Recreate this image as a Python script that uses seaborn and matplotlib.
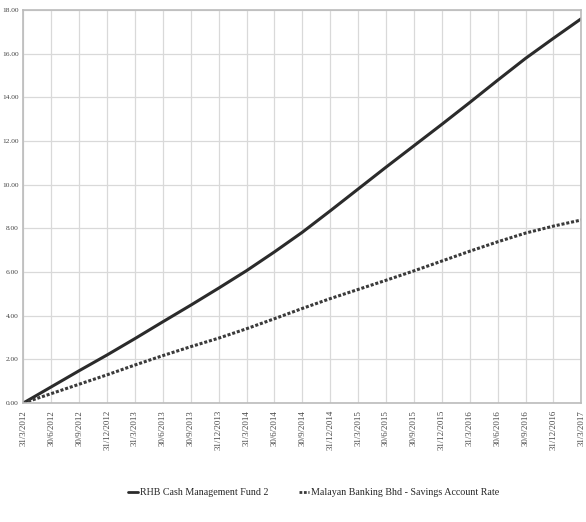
import pandas as pd
import matplotlib
matplotlib.use("Agg")
import matplotlib.pyplot as plt
import seaborn as sns

# quarter-end dates on the x axis
dates = ["31/3/2012", "30/6/2012", "30/9/2012", "31/12/2012",
         "31/3/2013", "30/6/2013", "30/9/2013", "31/12/2013",
         "31/3/2014", "30/6/2014", "30/9/2014", "31/12/2014",
         "31/3/2015", "30/6/2015", "30/9/2015", "31/12/2015",
         "31/3/2016", "30/6/2016", "30/9/2016", "31/12/2016",
         "31/3/2017"]

# cumulative returns (%)
rhb_fund = [0.0, 0.74, 1.48, 2.2, 2.95, 3.72, 4.48, 5.26, 6.06, 6.92, 7.82,
            8.8, 9.8, 10.8, 11.78, 12.76, 13.76, 14.78, 15.78, 16.7, 17.6]
savings_rate = [0.0, 0.43, 0.86, 1.29, 1.74, 2.17, 2.58, 2.97, 3.4, 3.86, 4.33,
                4.78, 5.2, 5.62, 6.05, 6.5, 6.95, 7.38, 7.78, 8.1, 8.38]

series_names = ["RHB Cash Management Fund 2",
                "Malayan Banking Bhd - Savings Account Rate"]

df = pd.DataFrame({
    "idx": list(range(len(dates))) * 2,
    "value": rhb_fund + savings_rate,
    "series": [series_names[0]] * len(dates) + [series_names[1]] * len(dates),
})

sns.set_style("whitegrid")
plt.rcParams["font.family"] = ["Liberation Serif", "DejaVu Serif"]

fig = plt.figure(figsize=(5.86, 5.22), dpi=100)
ax = fig.add_axes([0.04, 0.228, 0.952, 0.753])

sns.lineplot(data=df, x="idx", y="value", hue="series", style="series",
             palette=["#2b2b2b", "#3a3a3a"], dashes=[(None, None), (1, 0.6)],
             linewidth=2.2, legend=False, ax=ax)

ax.set_xlim(0, len(dates) - 1)
ax.set_ylim(0, 18)
ax.set_xticks(range(len(dates)))
ax.set_xticklabels(dates, rotation=90, fontsize=6.3, color="#444444")
ax.set_yticks(range(0, 19, 2))
ax.set_yticklabels([f"{v:.2f}" for v in range(0, 19, 2)], fontsize=5.3, color="#444444")
ax.tick_params(axis="x", length=2, pad=3, color="#999999")
ax.tick_params(axis="y", length=2, pad=1.5, color="#999999")
ax.set_xlabel("")
ax.set_ylabel("")
ax.grid(True, color="#d9d9d9", linewidth=0.9)
for side in ["top", "right", "left", "bottom"]:
    ax.spines[side].set_visible(True)
    ax.spines[side].set_color("#bbbbbb")
    ax.spines[side].set_linewidth(1.2)

# legend below the axes
handles = [plt.Line2D([], [], color="#2b2b2b", linewidth=2),
           plt.Line2D([], [], color="#3a3a3a", linewidth=2, linestyle=(0, (1, 0.6)))]
fig.legend(handles, series_names, loc="center", bbox_to_anchor=(0.535, 0.056),
           ncol=2, frameon=False, fontsize=7.2, handlelength=1.0,
           handletextpad=0.2, columnspacing=3.0)

fig.savefig("out.png", dpi=100)
